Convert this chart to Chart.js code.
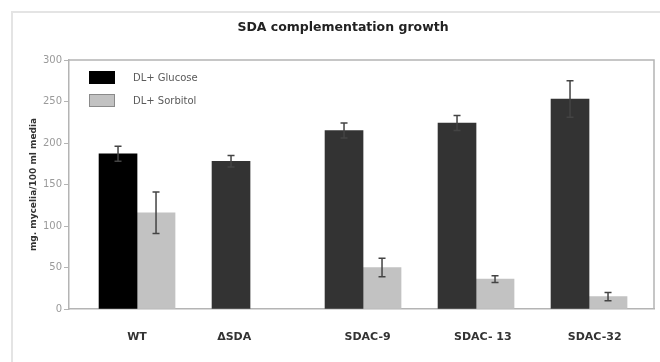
<!DOCTYPE html>
<html>
<head>
<meta charset="utf-8">
<script src="https://cdn.jsdelivr.net/npm/chart.js@4/dist/chart.umd.min.js"></script>
<style>
  html, body { margin: 0; padding: 0; background: #ffffff; }
  #chart { display: block; }
</style>
</head>
<body>
<canvas id="chart" width="660" height="362"></canvas>
<script>
// Strains on the x axis
const categories = ['WT', '\u0394SDA', 'SDAC-9', 'SDAC- 13', 'SDAC-32'];

// Growth in mg mycelia per 100 ml media (mean and error)
const glucose = [187, 178, 215, 224, 253];
const glucoseErr = [9, 7, 9, 9, 22];
const sorbitol = [116, null, 50, 36, 15];
const sorbitolErr = [25, null, 11, 4, 5];

// Y axis ticks
const yTicks = [0, 50, 100, 150, 200, 250, 300];

// Axis units where each strain name is written (bar groups sit at 1..5)
const labelAt = [1.0, 1.86, 3.04, 4.06, 5.05];

const FONT = 'DejaVu Sans';
const seriesNames = ['DL+ Glucose', 'DL+ Sorbitol'];
const errors = [glucoseErr, sorbitolErr];

const toPoints = vals => vals.map((v, i) => ({ x: i + 1, y: v }));

// Outer frame, plot frame, title and in-plot legend
const decorations = {
  id: 'decorations',
  beforeDraw(chart) {
    const ctx = chart.ctx;
    ctx.save();
    ctx.fillStyle = '#ffffff';
    ctx.fillRect(0, 0, chart.width, chart.height);
    ctx.strokeStyle = '#e4e4e4';
    ctx.lineWidth = 2;
    ctx.beginPath();
    ctx.moveTo(12, chart.height);
    ctx.lineTo(12, 12);
    ctx.lineTo(chart.width, 12);
    ctx.stroke();
    ctx.restore();
  },
  afterDraw(chart) {
    const ctx = chart.ctx;
    const a = chart.chartArea;
    ctx.save();
    ctx.strokeStyle = '#b4b4b4';
    ctx.lineWidth = 1.5;
    ctx.beginPath();
    ctx.moveTo(a.left, a.top);
    ctx.lineTo(a.right, a.top);
    ctx.lineTo(a.right, a.bottom);
    ctx.stroke();

    // Title
    ctx.fillStyle = '#222222';
    ctx.font = 'bold 12.5px "' + FONT + '"';
    ctx.textAlign = 'center';
    ctx.textBaseline = 'middle';
    ctx.fillText('SDA complementation growth', 343, 28);

    // Legend
    ctx.font = '10px "' + FONT + '"';
    ctx.textAlign = 'left';
    chart.data.datasets.forEach((ds, i) => {
      const bx = a.left + 20;
      const by = a.top + 11 + i * 23;
      const fill = Array.isArray(ds.backgroundColor) ? ds.backgroundColor[0] : ds.backgroundColor;
      ctx.fillStyle = fill;
      ctx.fillRect(bx, by, 26, 13);
      ctx.strokeStyle = i === 0 ? '#000000' : '#8a8a8a';
      ctx.lineWidth = 1;
      ctx.strokeRect(bx + 0.5, by + 0.5, 25, 12);
      ctx.fillStyle = '#5a5a5a';
      ctx.fillText(ds.label, bx + 44, by + 7);
    });
    ctx.restore();
  }
};

// Error bars drawn from the error arrays through the y scale
const errorBars = {
  id: 'errorBars',
  afterDatasetsDraw(chart) {
    const ctx = chart.ctx;
    const y = chart.scales.y;
    ctx.save();
    ctx.strokeStyle = '#444444';
    ctx.lineWidth = 1.5;
    chart.data.datasets.forEach((ds, di) => {
      const meta = chart.getDatasetMeta(di);
      meta.data.forEach((bar, i) => {
        const v = ds.data[i].y;
        const e = errors[di][i];
        if (v == null || e == null) return;
        const x = bar.x;
        const top = y.getPixelForValue(v + e);
        const bot = y.getPixelForValue(v - e);
        ctx.beginPath();
        ctx.moveTo(x, top);
        ctx.lineTo(x, bot);
        ctx.moveTo(x - 3.5, top);
        ctx.lineTo(x + 3.5, top);
        ctx.moveTo(x - 3.5, bot);
        ctx.lineTo(x + 3.5, bot);
        ctx.stroke();
      });
    });
    ctx.restore();
  }
};

new Chart(document.getElementById('chart'), {
  type: 'bar',
  data: {
    datasets: [
      {
        label: seriesNames[0],
        data: toPoints(glucose),
        backgroundColor: glucose.map((v, i) => (i === 0 ? '#000000' : '#333333')),
        borderWidth: 0
      },
      {
        label: seriesNames[1],
        data: toPoints(sorbitol),
        backgroundColor: '#c2c2c2',
        borderWidth: 0
      }
    ]
  },
  options: {
    responsive: false,
    animation: false,
    devicePixelRatio: 1,
    barThickness: 38,
    layout: { padding: { left: 0, top: 60, right: 6, bottom: 0 } },
    plugins: {
      legend: { display: false },
      title: { display: false },
      tooltip: { enabled: false }
    },
    scales: {
      x: {
        type: 'linear',
        offset: false,
        min: 0.398,
        max: 5.575,
        grid: { display: false },
        border: { display: true, color: '#b4b4b4', width: 1.5 },
        afterBuildTicks(scale) {
          scale.ticks = labelAt.map(v => ({ value: v }));
        },
        afterFit(scale) { scale.height = 53; },
        ticks: {
          autoSkip: false,
          maxRotation: 0,
          padding: 14,
          color: '#333333',
          font: { family: FONT, size: 11, weight: 'bold' },
          callback: (value, index) => categories[index]
        }
      },
      y: {
        min: 0,
        max: 300,
        afterBuildTicks(scale) {
          scale.ticks = yTicks.map(v => ({ value: v }));
        },
        afterFit(scale) { scale.width = 69; },
        grid: {
          drawOnChartArea: false,
          drawTicks: true,
          tickLength: 5,
          color: '#b4b4b4'
        },
        border: { display: true, color: '#b4b4b4', width: 1.5 },
        ticks: {
          padding: 2,
          color: '#9a9a9a',
          font: { family: FONT, size: 10 }
        },
        title: {
          display: true,
          text: 'mg. mycelia/100 ml media',
          color: '#333333',
          font: { family: FONT, size: 9, weight: 'bold' },
          padding: { top: 28, bottom: 0 }
        }
      }
    }
  },
  plugins: [decorations, errorBars]
});
</script>
</body>
</html>
